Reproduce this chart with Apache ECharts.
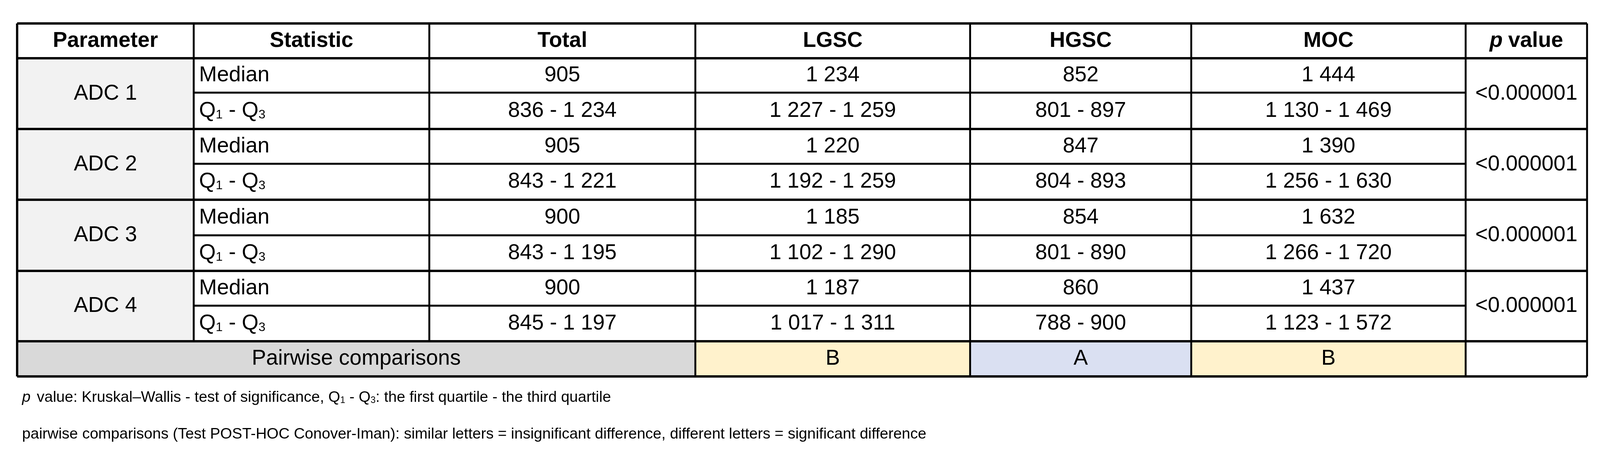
<!DOCTYPE html>
<html><head><meta charset="utf-8">
<script src="https://cdn.jsdelivr.net/npm/echarts@6/dist/echarts.min.js"></script>
<style>html,body{margin:0;padding:0;background:#fff;overflow:hidden}#c{width:100vw;height:100vh}</style>
</head><body><div id="c"></div>
<script>
const headers = ['Parameter','Statistic','Total','LGSC','HGSC','MOC','p value'];
const parameters = ['ADC 1','ADC 2','ADC 3','ADC 4'];
const statistics = ['Median','Q1 - Q3'];
const totalVals = [['905','836 - 1 234'],['905','843 - 1 221'],['900','843 - 1 195'],['900','845 - 1 197']];
const lgscVals = [['1 234','1 227 - 1 259'],['1 220','1 192 - 1 259'],['1 185','1 102 - 1 290'],['1 187','1 017 - 1 311']];
const hgscVals = [['852','801 - 897'],['847','804 - 893'],['854','801 - 890'],['860','788 - 900']];
const mocVals = [['1 444','1 130 - 1 469'],['1 390','1 256 - 1 630'],['1 632','1 266 - 1 720'],['1 437','1 123 - 1 572']];
const pValues = ['<0.000001','<0.000001','<0.000001','<0.000001'];
const pairwiseLabel = 'Pairwise comparisons';
const pairwise = ['B','A','B'];
const footnote2 = 'pairwise comparisons (Test POST-HOC Conover-Iman): similar letters = insignificant difference, different letters = significant difference';

const chart=echarts.init(document.getElementById('c'),null,{renderer:'canvas'});
const sx = chart.getWidth()/4204, sy = chart.getHeight()/1164, sf = Math.min(sx,sy);
const X = [45,509,1128,1827,2549,3130,3851,4170].map(v=>v*sx);
const Y = [60,149,237,330,419,511,602,693,782,873,963].map(v=>v*sy);
const FONT = 'Liberation Sans';
const FS = Math.round(56*sf);
const els = [];
function rect(x0,y0,x1,y1,fill){els.push({type:'rect',shape:{x:x0,y:y0,width:x1-x0,height:y1-y0},style:{fill:fill},z:1});}
function line(x0,y0,x1,y1,w){els.push({type:'line',shape:{x1:x0,y1:y0,x2:x1,y2:y1},style:{stroke:'#000',lineWidth:(w||4)*sf},z:5});}
function text(x,y,t,opt){opt=opt||{};els.push({type:'text',x:x,y:y,z:10,style:{text:t,fill:'#000',font:(opt.bold?'bold ':'')+FS+'px "'+FONT+'"',align:opt.align||'center',verticalAlign:'middle'}});}
const rich = {n:{fontSize:FS,fontFamily:FONT,fill:'#000'},s:{fontSize:Math.round(33*sf),fontFamily:FONT,fill:'#000',padding:[Math.round(22*sf),0,0,0]},i:{fontSize:FS,fontFamily:FONT,fontStyle:'italic',fontWeight:'bold',fill:'#000',padding:[0,Math.round(14*sf),0,0]},b:{fontSize:FS,fontFamily:FONT,fontWeight:'bold',fill:'#000'}};

for(let p=0;p<4;p++) rect(X[0],Y[1+2*p],X[1],Y[3+2*p],'#F2F2F2');
rect(X[0],Y[9],X[3],Y[10],'#D9D9D9');
const pwFill=['#FFF2CC','#DAE0F2','#FFF2CC'];
for(let k=0;k<3;k++) rect(X[3+k],Y[9],X[4+k],Y[10],pwFill[k]);

const cx=i=>(X[i]+X[i+1])/2, cy=j=>(Y[j]+Y[j+1])/2;
headers.forEach((h,i)=>{
  if(h==='p value'){
    els.push({type:'text',x:cx(i),y:cy(0),z:10,style:{text:'{i|p}{b|value}',rich:rich,align:'center',verticalAlign:'middle'}});
  } else text(cx(i),cy(0),h,{bold:true});
});
const cols=[totalVals,lgscVals,hgscVals,mocVals];
parameters.forEach((p,pi)=>{
  text(cx(0),(Y[1+2*pi]+Y[3+2*pi])/2,p);
  statistics.forEach((s,si)=>{
    const r=1+2*pi+si;
    if(si===1) els.push({type:'text',x:X[1]+14*sx,y:cy(r),z:10,style:{text:'{n|Q}{s|1}{n| - Q}{s|3}',rich:rich,align:'left',verticalAlign:'middle'}});
    else text(X[1]+14*sx,cy(r),s,{align:'left'});
    cols.forEach((c,ci)=>text(cx(2+ci),cy(r),c[pi][si]));
  });
  text(cx(6),(Y[1+2*pi]+Y[3+2*pi])/2,pValues[pi]);
});
text((X[0]+X[3])/2,cy(9),pairwiseLabel);
pairwise.forEach((v,k)=>text(cx(3+k),cy(9),v));

Y.forEach((y,j)=>{
  const major = (j<=1||j%2===1||j===10);
  if(major) line(X[0],y,X[7],y,6);
  else line(X[1],y,X[6],y,5);
});
line(X[0],Y[0],X[0],Y[10],6); line(X[7],Y[0],X[7],Y[10],5);
for(let i=1;i<7;i++){
  const yEnd = (i===1||i===2)?Y[9]:Y[10];
  line(X[i],Y[0],X[i],yEnd,5);
}
const FF=Math.round(40*sf);
const fr={n:{fontSize:FF,fontFamily:FONT,fill:'#000'},i:{fontSize:FF,fontFamily:FONT,fontStyle:'italic',fill:'#000',padding:[0,Math.round(16*sf),0,0]},s:{fontSize:Math.round(24*sf),fontFamily:FONT,fill:'#000',padding:[Math.round(16*sf),0,0,0]}};
els.push({type:'text',x:58*sx,y:1017*sy,z:10,style:{text:'{i|p}{n|value: Kruskal–Wallis - test of significance, Q}{s|1}{n| - Q}{s|3}{n|: the first quartile - the third quartile}',rich:fr,align:'left',verticalAlign:'middle'}});
els.push({type:'text',x:58*sx,y:1111*sy,z:10,style:{text:footnote2,font:FF+'px "'+FONT+'"',fill:'#000',align:'left',verticalAlign:'middle'}});

chart.setOption({animation:false,backgroundColor:'#fff',graphic:{elements:els}});
</script></body></html>
